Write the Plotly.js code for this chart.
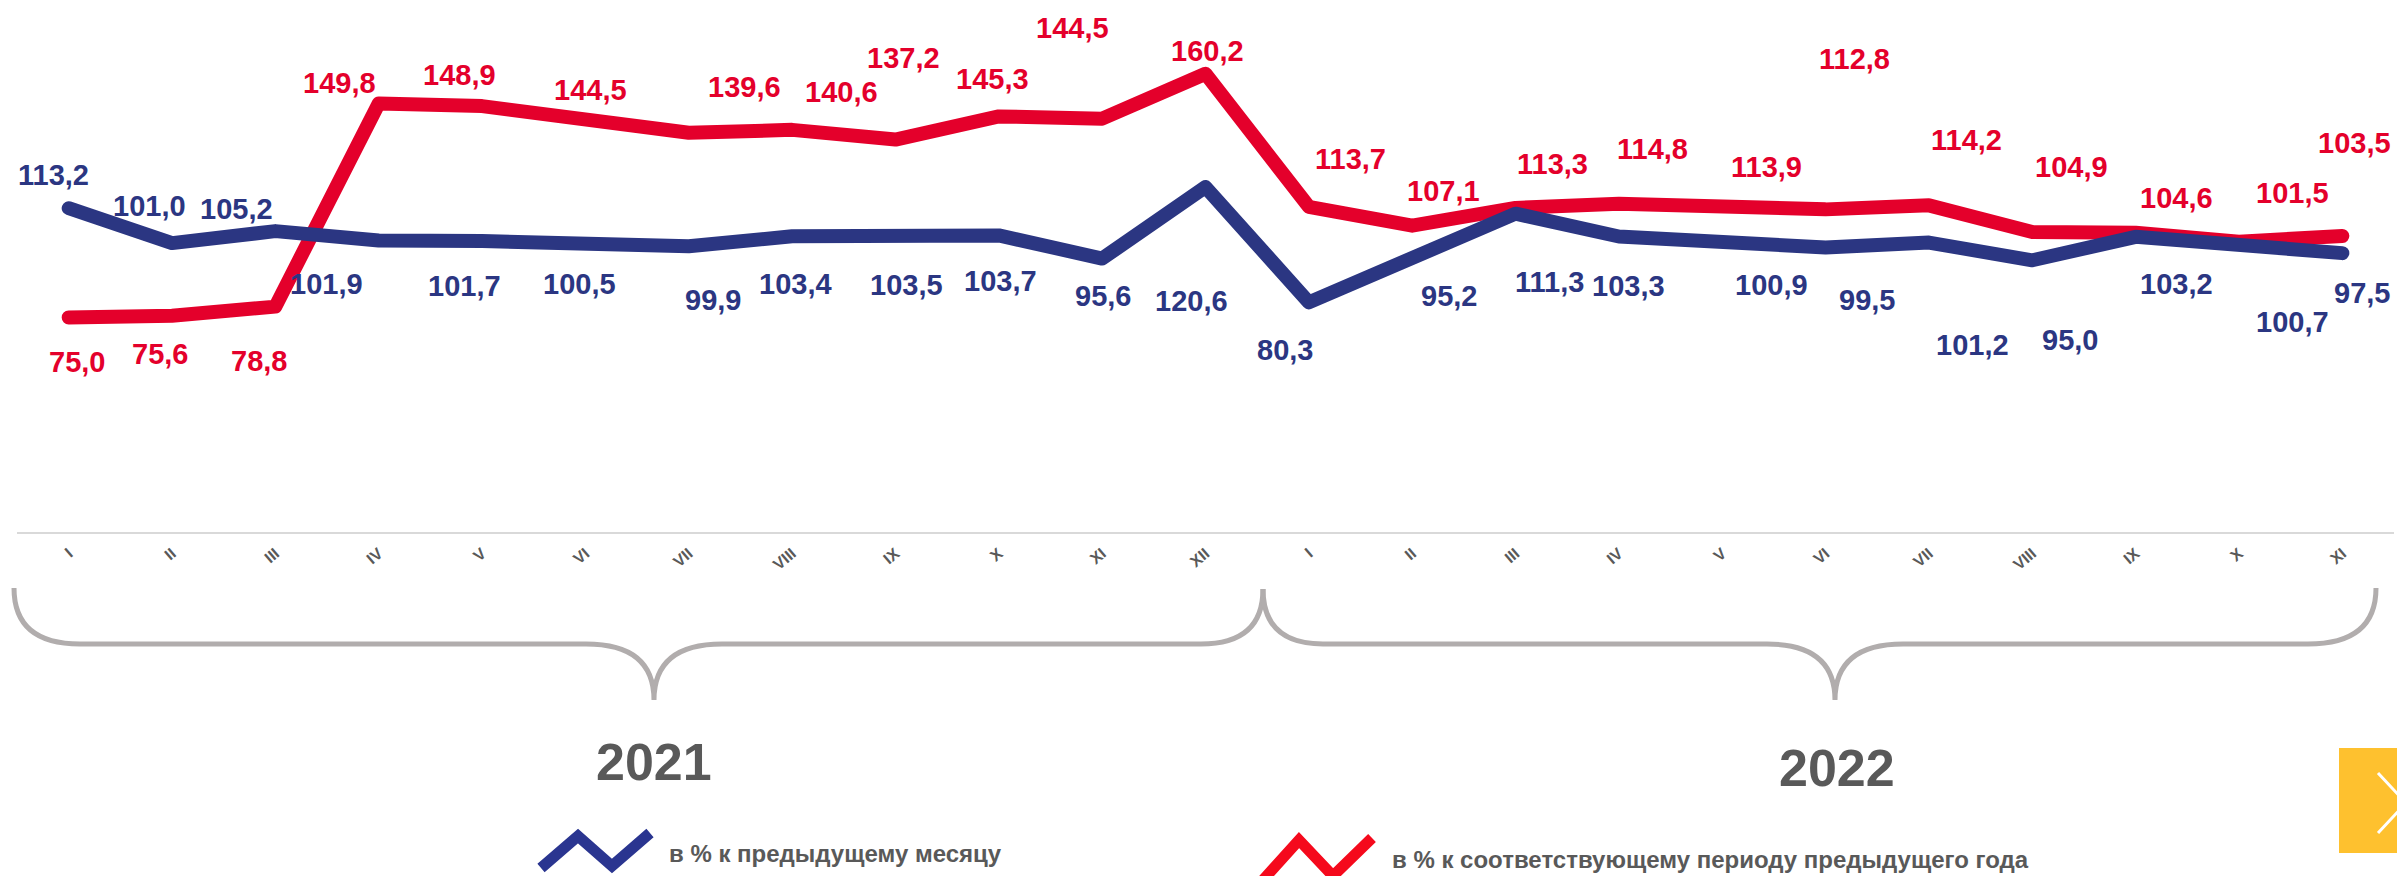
<!DOCTYPE html>
<html>
<head>
<meta charset="utf-8">
<script src="https://cdn.plot.ly/plotly-3.0.1.min.js"></script>
<style>
  html, body { margin: 0; padding: 0; background: #ffffff; }
  #chart { width: 2397px; height: 876px; }
  #chart .scatterlayer path.js-line { stroke-linecap: round; stroke-linejoin: round; }
</style>
</head>
<body>
<div id="chart"></div>
<script>
// ---- data ----
const months = ['I','II','III','IV','V','VI','VII','VIII','IX','X','XI','XII',
                'I','II','III','IV','V','VI','VII','VIII','IX','X','XI'];
const years = ['2021', '2022'];
const seriesNames = ['в % к предыдущему месяцу', 'в % к соответствующему периоду предыдущего года'];
const prevMonth = [113.2, 101.0, 105.2, 101.9, 101.7, 100.5, 99.9, 103.4, 103.5, 103.7, 95.6, 120.6,
                   80.3, 95.2, 111.3, 103.3, 100.9, 99.5, 101.2, 95.0, 103.2, 100.7, 97.5];
const prevYear  = [75.0, 75.6, 78.8, 149.8, 148.9, 144.5, 139.6, 140.6, 137.2, 145.3, 144.5, 160.2,
                   113.7, 107.1, 113.3, 114.8, 113.9, 112.8, 114.2, 104.9, 104.6, 101.5, 103.5];

// ---- label placement offsets (px, dy positive = down) ----
const blueDx = [-15,-23,-39,-52,-18,-6,24,3,11,2,1,-14,-24,37,34,10,49,41,44,38,41,54,20];
const blueDy = [-33,-37,-22,43,45,39,54,48,49,46,37,114,48,36,68,49,42,53,102,80,47,78,40];
const redDx  = [8,-12,-16,-39,-23,5,56,49,8,-6,-30,2,42,31,37,34,44,29,38,39,41,54,12];
const redDy  = [45,38,54,-21,-31,-29,-46,-38,-82,-37,-91,-23,-48,-35,-44,-55,-39,-150,-65,-65,-35,-49,-93];

// ---- styling ----
const BLUE = '#2b3682', RED = '#e4002b', GREY = '#595959', BRACE = '#b1adad';
const W = 2397, H = 876, ML = 17, MR = 3, MT = 0, MB = 344;
const PW = W - ML - MR, PH = H - MT - MB;
const px = v => (v - ML) / PW;
const py = v => (H - MB - v) / PH;
const P = (x, y) => px(x).toFixed(5) + ',' + py(y).toFixed(5);

const idx = months.map((m, i) => i);
const fmt = v => v.toFixed(1).replace('.', ',');

const traces = [
  { x: idx, y: prevYear, type: 'scatter', mode: 'lines', name: seriesNames[1],
    line: { color: RED, width: 14 }, hoverinfo: 'skip' },
  { x: idx, y: prevMonth, type: 'scatter', mode: 'lines', name: seriesNames[0],
    line: { color: BLUE, width: 14 }, hoverinfo: 'skip' }
];

const labelFont = (c) => ({ family: 'Liberation Sans, Arial, sans-serif', size: 29, color: c, weight: 'bold' });
const annotations = [];
prevMonth.forEach((v, i) => annotations.push({
  x: i, y: v, xref: 'x', yref: 'y', text: fmt(v), showarrow: false,
  xanchor: 'center', yanchor: 'middle', xshift: blueDx[i], yshift: -blueDy[i], font: labelFont(BLUE)
}));
prevYear.forEach((v, i) => annotations.push({
  x: i, y: v, xref: 'x', yref: 'y', text: fmt(v), showarrow: false,
  xanchor: 'center', yanchor: 'middle', xshift: redDx[i], yshift: -redDy[i], font: labelFont(RED)
}));
// year captions
const yearFont = { family: 'Liberation Sans, Arial, sans-serif', size: 52, color: GREY, weight: 'bold' };
annotations.push({ x: px(654), y: py(762), xref: 'paper', yref: 'paper', text: years[0], showarrow: false,
  xanchor: 'center', yanchor: 'middle', font: yearFont });
annotations.push({ x: px(1837), y: py(768), xref: 'paper', yref: 'paper', text: years[1], showarrow: false,
  xanchor: 'center', yanchor: 'middle', font: yearFont });
// legend texts
const legFont = { family: 'Liberation Sans, Arial, sans-serif', size: 24, color: GREY, weight: 'bold' };
annotations.push({ x: px(667), y: py(853), xref: 'paper', yref: 'paper', text: seriesNames[0], showarrow: false,
  xanchor: 'left', yanchor: 'middle', font: legFont });
annotations.push({ x: px(1390), y: py(859), xref: 'paper', yref: 'paper', text: seriesNames[1], showarrow: false,
  xanchor: 'left', yanchor: 'middle', font: legFont });

// braces
const brace2021 = 'M' + P(14,588) + ' Q' + P(14,644) + ' ' + P(80,644) + ' L' + P(586,644) +
  ' Q' + P(654,644) + ' ' + P(654,700) + ' Q' + P(654,644) + ' ' + P(722,644) + ' L' + P(1201,644) +
  ' Q' + P(1263,644) + ' ' + P(1263,589);
const brace2022 = 'M' + P(1263,589) + ' Q' + P(1263,644) + ' ' + P(1323,644) + ' L' + P(1767,644) +
  ' Q' + P(1835,644) + ' ' + P(1835,700) + ' Q' + P(1835,644) + ' ' + P(1903,644) + ' L' + P(2308,644) +
  ' Q' + P(2376,644) + ' ' + P(2376,588);
const shapes = [
  { type: 'path', xref: 'paper', yref: 'paper', path: brace2021, line: { color: BRACE, width: 5 } },
  { type: 'path', xref: 'paper', yref: 'paper', path: brace2022, line: { color: BRACE, width: 5 } },
  // legend icons
  { type: 'path', xref: 'paper', yref: 'paper',
    path: 'M' + P(541,868) + ' L' + P(578,836) + ' L' + P(612,866) + ' L' + P(650,833),
    line: { color: '#2a3590', width: 11 } },
  { type: 'path', xref: 'paper', yref: 'paper',
    path: 'M' + P(1263,880) + ' L' + P(1299,840) + ' L' + P(1333,876) + ' L' + P(1372,838),
    line: { color: '#f5091c', width: 11 } },
  // yellow nav button
  { type: 'rect', xref: 'paper', yref: 'paper', x0: px(2339), x1: px(2400), y0: py(853), y1: py(748),
    fillcolor: '#fec12f', line: { width: 0 } },
  { type: 'path', xref: 'paper', yref: 'paper',
    path: 'M' + P(2378,773) + ' L' + P(2406,803) + ' L' + P(2378,833),
    line: { color: '#ffffff', width: 3 } }
];

const layout = {
  width: W, height: H,
  margin: { l: ML, r: MR, t: MT, b: MB, pad: 0 },
  paper_bgcolor: '#ffffff', plot_bgcolor: '#ffffff',
  showlegend: false,
  xaxis: {
    range: [-0.5, 22.5], tickvals: idx, ticktext: months, tickangle: -40,
    showline: true, linecolor: '#d9d9d9', linewidth: 2, showgrid: false, zeroline: false,
    ticks: '', ticklabelstandoff: 4,
    tickfont: { family: 'Liberation Sans, Arial, sans-serif', size: 16, color: GREY, weight: 'bold' },
    fixedrange: true
  },
  yaxis: { range: [0, 186], visible: false, showgrid: false, zeroline: false, fixedrange: true },
  annotations: annotations,
  shapes: shapes
};

Plotly.newPlot('chart', traces, layout, { displayModeBar: false, staticPlot: true });
</script>
</body>
</html>
